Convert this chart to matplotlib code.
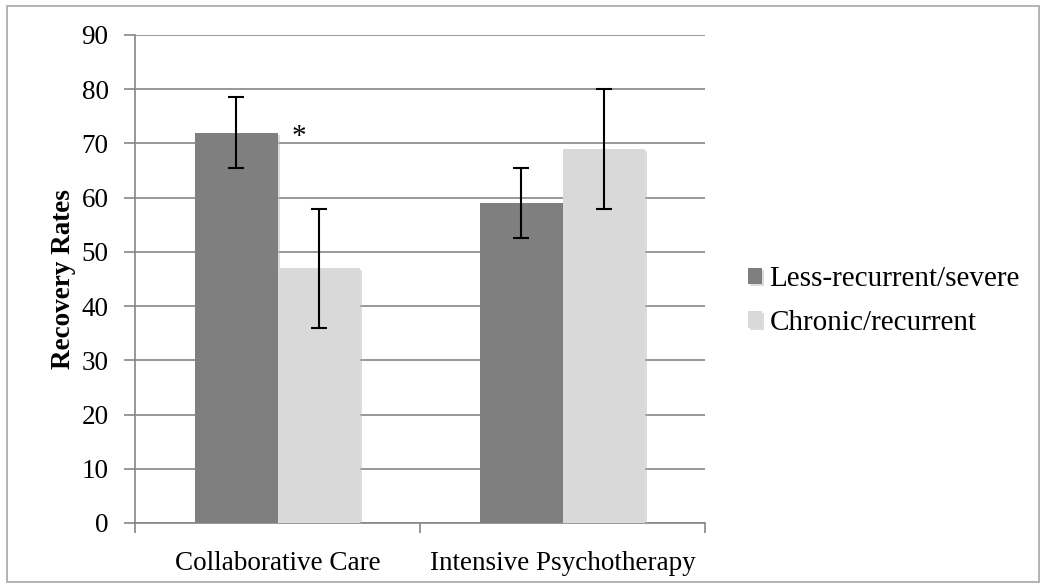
import numpy as np
import matplotlib.pyplot as plt
from matplotlib.patches import Rectangle
import matplotlib.patheffects as pe

categories = ['Collaborative Care', 'Intensive Psychotherapy']
series = ['Less-recurrent/severe', 'Chronic/recurrent']
less_recurrent = [72, 59]
less_err = [6.5, 6.5]
chronic = [47, 69]
chronic_err = [11, 11]
colors = ['#7f7f7f', '#d9d9d9']

plt.rcParams['font.family'] = ['Liberation Serif', 'DejaVu Serif']

fig = plt.figure(figsize=(10.45, 5.87), dpi=100)
ax = fig.add_axes([135 / 1045, 1 - 523 / 587, 570 / 1045, 488 / 587])

x = np.arange(len(categories))
w = 0.288
shadow = [pe.SimplePatchShadow(offset=(1.5, -1.5), shadow_rgbFace='#bbbbbb', alpha=0.5), pe.Normal()]
b1 = ax.bar(x - w / 2, less_recurrent, w, color=colors[0], zorder=3, label=series[0], path_effects=shadow)
b2 = ax.bar(x + w / 2, chronic, w, color=colors[1], zorder=3, label=series[1], path_effects=shadow)
ax.errorbar(x - w / 2, less_recurrent, yerr=less_err, fmt='none', ecolor='black',
            elinewidth=1.5, capsize=6, capthick=1.5, zorder=4)
ax.errorbar(x + w / 2, chronic, yerr=chronic_err, fmt='none', ecolor='black',
            elinewidth=1.5, capsize=6, capthick=1.5, zorder=4)

# significance marker
ax.text(x[0] + 0.075, less_recurrent[0] - 0.8, '*', fontsize=21, ha='center', va='center', zorder=5)

ax.set_xlim(-0.5, 1.5)
ax.set_ylim(0, 90)
ax.set_yticks(range(0, 91, 10))
ax.yaxis.grid(True, color='#868686', linewidth=1.2, zorder=0)
ax.set_axisbelow(True)

ax.set_xticks(x)
ax.set_xticklabels(categories, fontsize=19.5)
ax.tick_params(axis='x', length=0, pad=20)
ax.set_xticks([-0.5, 0.5, 1.5], minor=True)
ax.tick_params(axis='x', which='minor', length=7, color='#868686', width=1.2)
ax.tick_params(axis='y', length=8, color='#868686', width=1.2, labelsize=19.5, pad=11)

for s in ['top', 'right']:
    ax.spines[s].set_visible(False)
for s in ['left', 'bottom']:
    ax.spines[s].set_color('#868686')
    ax.spines[s].set_linewidth(1.2)

ax.set_ylabel('Recovery Rates', fontsize=19.5, fontweight='bold', labelpad=4)

ax.legend(handles=[b1, b2], loc='center left', bbox_to_anchor=(1.029, 0.455), frameon=False,
          fontsize=21, handlelength=0.5, handleheight=0.5, handletextpad=0.25, labelspacing=0.6)

fig.patches.append(Rectangle((7 / 1045, 5 / 587), 1032 / 1045, 576 / 587, transform=fig.transFigure,
                             fill=False, edgecolor='#a6a6a6', linewidth=1.2))

fig.savefig('out.png', dpi=100)
